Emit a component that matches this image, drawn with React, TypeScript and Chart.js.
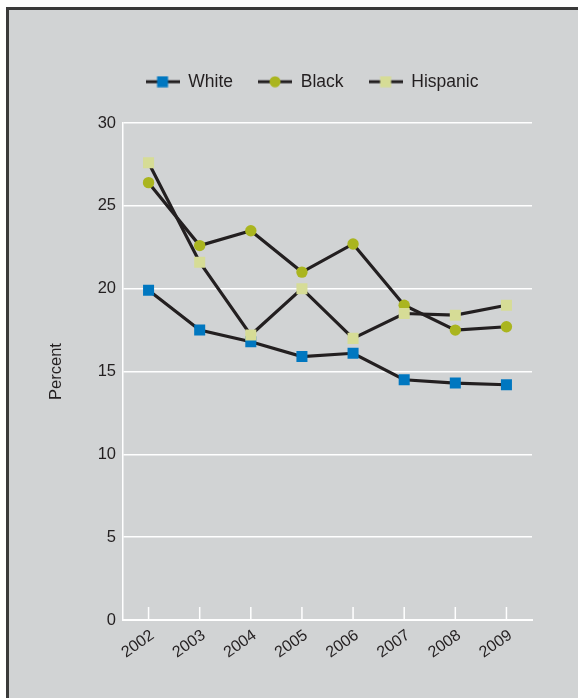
import React, { useEffect, useRef } from "react";
import { Chart, registerables } from "chart.js";

Chart.register(...registerables);

const years = ["2002", "2003", "2004", "2005", "2006", "2007", "2008", "2009"];
const seriesNames = ["White", "Black", "Hispanic"];
const whiteValues = [19.9, 17.5, 16.8, 15.9, 16.1, 14.5, 14.3, 14.2];
const blackValues = [26.4, 22.6, 23.5, 21.0, 22.7, 19.0, 17.5, 17.7];
const hispanicValues = [27.6, 21.6, 17.2, 20.0, 17.0, 18.5, 18.4, 19.0];
const yTicks = [0, 5, 10, 15, 20, 25, 30];

const LINE = "#231f20";
const BG = "#d1d3d4";
const FONT = "'Liberation Sans', Arial, Helvetica, sans-serif";
const colors = ["#0077c0", "#aab51f", "#d6dc96"];
const styles = ["rect", "circle", "rect"];

function legendIcon(color: string, style: string) {
  const c = document.createElement("canvas");
  c.width = 34;
  c.height = 12;
  const ctx = c.getContext("2d")!;
  ctx.strokeStyle = LINE;
  ctx.lineWidth = 3;
  ctx.beginPath();
  ctx.moveTo(0, 6);
  ctx.lineTo(34, 6);
  ctx.stroke();
  ctx.fillStyle = color;
  if (style === "circle") {
    ctx.beginPath();
    ctx.arc(17, 6, 5.5, 0, Math.PI * 2);
    ctx.fill();
  } else {
    ctx.fillRect(11.5, 0.5, 11, 11);
  }
  return c;
}

export default function App() {
  const ref = useRef<HTMLCanvasElement>(null);
  useEffect(() => {
    const values = [whiteValues, blackValues, hispanicValues];
    const icons = seriesNames.map((_, i) => legendIcon(colors[i], styles[i]));
    const legendTweak = {
      id: "legendTweak",
      beforeInit(chart: any) {
        const lg = chart.legend;
        const origFit = lg.fit;
        lg.fit = function () {
          origFit.call(this);
          this.height += 22.5;
        };
        const origDraw = lg.draw;
        lg.draw = function () {
          const shift = 29.5;
          this.left += shift;
          this.right += shift;
          origDraw.call(this);
          this.left -= shift;
          this.right -= shift;
        };
      },
    };
    const innerTicks = {
      id: "innerTicks",
      afterDraw(chart: any) {
        const x = chart.scales.x;
        const ctx = chart.ctx;
        const bottom = chart.chartArea.bottom;
        ctx.save();
        ctx.strokeStyle = "#ffffff";
        ctx.lineWidth = 1.5;
        for (let i = 0; i < years.length; i++) {
          const px = x.getPixelForTick(i);
          ctx.beginPath();
          ctx.moveTo(px, bottom - 13);
          ctx.lineTo(px, bottom);
          ctx.stroke();
        }
        ctx.restore();
      },
    };
    const chart = new Chart(ref.current!, {
      type: "line",
      data: {
        labels: years,
        datasets: seriesNames.map((name, i) => ({
          label: name,
          data: values[i],
          borderColor: LINE,
          borderWidth: 3.2,
          backgroundColor: colors[i],
          pointBackgroundColor: colors[i],
          pointBorderWidth: 0,
          pointStyle: styles[i] as any,
          pointRadius: styles[i] === "rect" ? 7.8 : 5.7,
          tension: 0,
          order: 3 - i,
        })),
      },
      options: {
        animation: false,
        responsive: false,
        layout: { padding: { top: 38, left: 24, right: 46, bottom: 0 } },
        plugins: {
          tooltip: { enabled: false },
          legend: {
            display: true,
            position: "top",
            labels: {
              color: LINE,
              font: { family: FONT, size: 17.5 },
              padding: 25,
              usePointStyle: true,
              pointStyleWidth: 34,
              generateLabels: () =>
                seriesNames.map((name, i) => ({
                  text: name,
                  pointStyle: icons[i],
                  fillStyle: colors[i],
                  strokeStyle: LINE,
                  lineWidth: 0,
                  hidden: false,
                  datasetIndex: i,
                  fontColor: LINE,
                })) as any,
            },
          },
        },
        scales: {
          x: {
            type: "category",
            offset: true,
            grid: { display: false, drawTicks: false },
            border: { display: true, color: "#ffffff", width: 2 },
            ticks: {
              color: LINE,
              font: { family: FONT, size: 16 },
              minRotation: 35,
              maxRotation: 35,
              padding: 6,
              labelOffset: 4,
            },
            afterFit(scale: any) {
              scale.height = 78;
            },
          },
          y: {
            min: 0,
            max: 30,
            afterBuildTicks(scale: any) {
              scale.ticks = yTicks.map((v) => ({ value: v }));
            },
            grid: { color: "#ffffff", lineWidth: 1.5, drawTicks: false },
            border: { display: true, color: "#ffffff", width: 1.5 },
            ticks: {
              color: LINE,
              font: { family: FONT, size: 16.5 },
              padding: 7,
            },
            title: {
              display: true,
              text: "Percent",
              color: LINE,
              font: { family: FONT, size: 16.5 },
              padding: { top: 14, bottom: 0 },
            },
            afterFit(scale: any) {
              scale.width = 90;
            },
          },
        },
      },
      plugins: [legendTweak, innerTicks],
    });
    return () => chart.destroy();
  }, []);

  return (
    <div
      style={{
        position: "absolute",
        left: 6,
        top: 7,
        width: 584,
        height: 702,
        boxSizing: "border-box",
        border: "3px solid #3a3a3a",
        background: BG,
      }}
    >
      <canvas
        ref={ref}
        width={569}
        height={688}
        style={{ position: "absolute", left: 0, top: 0, width: 569, height: 688 }}
      />
    </div>
  );
}
